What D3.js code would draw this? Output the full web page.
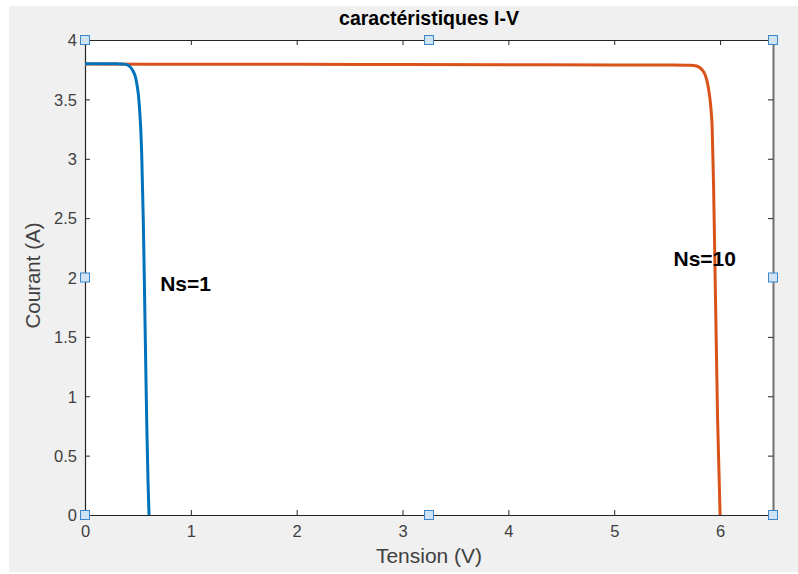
<!DOCTYPE html>
<html><head><meta charset="utf-8">
<script src="https://cdn.jsdelivr.net/npm/d3@7"></script>
<style>html,body{margin:0;padding:0;background:#fff;}svg{display:block;}</style>
</head><body>
<script>
// ---- data ----
const xTicks = [0, 1, 2, 3, 4, 5, 6];
const yTicks = [0, 0.5, 1, 1.5, 2, 2.5, 3, 3.5, 4];
const voltNs1 = [0, 0.10, 0.20, 0.30, 0.36, 0.40, 0.425, 0.45, 0.473, 0.49, 0.503, 0.513, 0.525, 0.536, 0.551, 0.567, 0.583, 0.595, 0.605];
const currNs1 = [3.80, 3.80, 3.80, 3.799, 3.797, 3.79, 3.775, 3.745, 3.70, 3.63, 3.55, 3.45, 3.28, 3.03, 2.47, 1.63, 0.79, 0.30, 0];
const voltNs10 = [0, 1, 2, 3, 4, 5, 5.5, 5.7, 5.766, 5.80, 5.83, 5.855, 5.875, 5.891, 5.905, 5.915, 5.923, 5.931, 5.939, 5.955, 5.966, 5.977, 5.99, 6.0];
const currNs10 = [3.797, 3.796, 3.795, 3.794, 3.792, 3.790, 3.789, 3.787, 3.783, 3.772, 3.75, 3.715, 3.66, 3.59, 3.50, 3.41, 3.31, 3.05, 2.75, 1.91, 1.35, 0.79, 0.35, 0];
const seriesNames = ["Ns=1", "Ns=10"];
const labelV = [0.71, 5.56];
const labelI = [1.95, 2.155];
const title = "caractéristiques I-V";
const xLabel = "Tension (V)";
const yLabel = "Courant (A)";

// ---- layout ----
const W = 798, H = 574;
const L = 85, R = 773, T = 40, B = 515;
const font = "'Liberation Sans', Arial, Helvetica, sans-serif";
const svg = d3.select("body").append("svg").attr("width", W).attr("height", H);
svg.append("rect").attr("x", 9).attr("y", 6).attr("width", W - 9).attr("height", 566).attr("fill", "#f0f0f0");

const x = d3.scaleLinear().domain([0, 6.5]).range([L, R]);
const y = d3.scaleLinear().domain([0, 4]).range([B, T]);

svg.append("rect").attr("x", L).attr("y", T).attr("width", R - L).attr("height", B - T).attr("fill", "#fff");

// axes
const tk = 5;
const gx = svg.append("g").attr("transform", `translate(0,${B})`)
  .call(d3.axisBottom(x).tickValues(xTicks).tickFormat(d3.format("d")).tickSizeInner(-tk).tickSizeOuter(0).tickPadding(10));
const gxt = svg.append("g").attr("transform", `translate(0,${T})`)
  .call(d3.axisTop(x).tickValues(xTicks).tickFormat("").tickSizeInner(-tk).tickSizeOuter(0));
const gy = svg.append("g").attr("transform", `translate(${L},0)`)
  .call(d3.axisLeft(y).tickValues(yTicks).tickFormat(d => String(d)).tickSizeInner(-tk).tickSizeOuter(0).tickPadding(8));
const gyr = svg.append("g").attr("transform", `translate(${R},0)`)
  .call(d3.axisRight(y).tickValues(yTicks).tickFormat("").tickSizeInner(-tk).tickSizeOuter(0));
[gx, gxt, gy, gyr].forEach(g => {
  g.selectAll(".domain").attr("stroke", "#262626").attr("stroke-width", 1.2);
  g.selectAll(".tick line").attr("stroke", "#262626").attr("stroke-width", 1);
  g.selectAll("text").attr("font-family", font).attr("font-size", 16.5).attr("fill", "#404040");
});
gyr.selectAll(".domain").attr("stroke", "#707070").attr("stroke-width", 2);
gy.selectAll("text").attr("dy", "0.35em");

// lines
const line = d3.line().x(d => x(d[0])).y(d => y(d[1])).curve(d3.curveCatmullRom.alpha(0.5));
const s1 = voltNs1.map((v, i) => [v, currNs1[i]]);
const s10 = voltNs10.map((v, i) => [v, currNs10[i]]);
svg.append("path").datum(s10).attr("d", line).attr("fill", "none").attr("stroke", "#D95319").attr("stroke-width", 3).attr("stroke-linejoin", "round");
svg.append("path").datum(s1).attr("d", line).attr("fill", "none").attr("stroke", "#0072BD").attr("stroke-width", 3).attr("stroke-linejoin", "round");

// labels
seriesNames.forEach((n, i) => {
  svg.append("text").attr("x", x(labelV[i])).attr("y", y(labelI[i])).attr("dy", "0.35em")
    .attr("font-family", font).attr("font-weight", "bold").attr("font-size", 21).attr("fill", "#000").text(n);
});

// title & axis labels
svg.append("text").attr("x", (L + R) / 2).attr("y", 25).attr("text-anchor", "middle")
  .attr("font-family", font).attr("font-weight", "bold").attr("font-size", 19.5).attr("fill", "#000").text(title);
svg.append("text").attr("x", (L + R) / 2).attr("y", 563).attr("text-anchor", "middle")
  .attr("font-family", font).attr("font-size", 21).attr("fill", "#404040").text(xLabel);
svg.append("text").attr("transform", `translate(40,${(T + B) / 2 - 2}) rotate(-90)`).attr("text-anchor", "middle")
  .attr("font-family", font).attr("font-size", 20.5).attr("fill", "#404040").text(yLabel);

// selection handles
const hx = [L, (L + R) / 2, R], hy = [T, (T + B) / 2, B];
hx.forEach((px, i) => hy.forEach((py, j) => {
  if (i === 1 && j === 1) return;
  svg.append("rect").attr("x", px - 4.5).attr("y", py - 4.5).attr("width", 9).attr("height", 9)
    .attr("fill", "#cfe3f5").attr("stroke", "#3a86c8").attr("stroke-width", 1);
}));
</script>
</body></html>
